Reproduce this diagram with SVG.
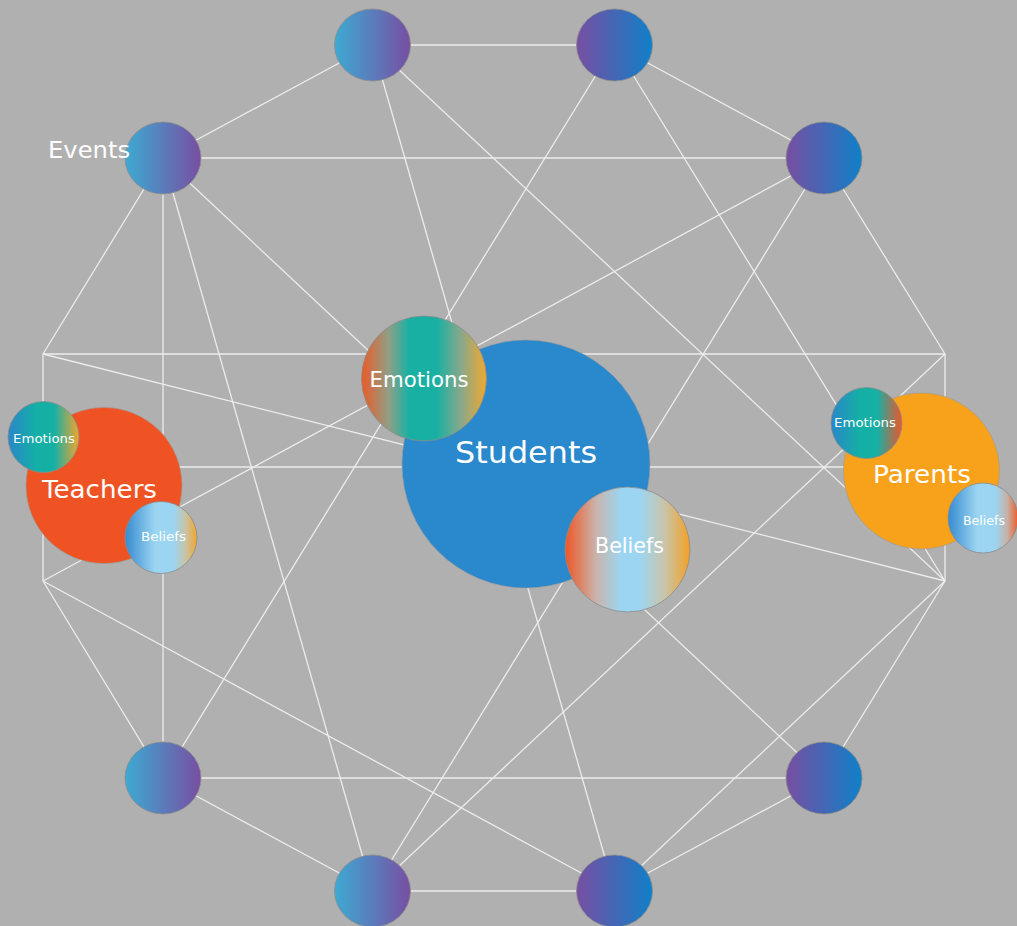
<svg xmlns="http://www.w3.org/2000/svg" width="1017" height="926" viewBox="0 0 1017 926">
<style>
.ln{stroke:#ececec;stroke-width:1.3;fill:none}
.sm{stroke:#8c8c8c;stroke-width:0.8}
.big{stroke:#9a9a9a;stroke-width:0.6}
.t{fill:#ffffff;font-family:"DejaVu Sans","Liberation Sans",sans-serif;text-anchor:middle}
</style>
<defs>
<linearGradient id="gL" x1="0" y1="0" x2="1" y2="0"><stop offset="0" stop-color="#3daad3"/><stop offset="1" stop-color="#784ea2"/></linearGradient>
<linearGradient id="gR" x1="0" y1="0" x2="1" y2="0"><stop offset="0" stop-color="#784ea2"/><stop offset="1" stop-color="#0f80c8"/></linearGradient>
<linearGradient id="gEmoC" x1="0" y1="0" x2="1" y2="0"><stop offset="0" stop-color="#ec5a26"/><stop offset="0.22" stop-color="#8fa088"/><stop offset="0.38" stop-color="#18b0a3"/><stop offset="0.6" stop-color="#18b0a3"/><stop offset="0.8" stop-color="#8aa88a"/><stop offset="1" stop-color="#f0a82e"/></linearGradient>
<linearGradient id="gBelC" x1="0" y1="0" x2="1" y2="0"><stop offset="0" stop-color="#ef5524"/><stop offset="0.25" stop-color="#c9b4ac"/><stop offset="0.45" stop-color="#9cd5f2"/><stop offset="0.6" stop-color="#9cd5f2"/><stop offset="0.8" stop-color="#cac4a8"/><stop offset="1" stop-color="#f3a024"/></linearGradient>
<linearGradient id="gEmoT" x1="0" y1="0" x2="1" y2="0"><stop offset="0" stop-color="#2a86ca"/><stop offset="0.4" stop-color="#14b0a5"/><stop offset="0.65" stop-color="#16b0a4"/><stop offset="1" stop-color="#f2a52c"/></linearGradient>
<linearGradient id="gEmoP" x1="0" y1="0" x2="1" y2="0"><stop offset="0" stop-color="#2a86ca"/><stop offset="0.4" stop-color="#14b0a5"/><stop offset="0.65" stop-color="#16b0a4"/><stop offset="1" stop-color="#ee5528"/></linearGradient>
<linearGradient id="gBelT" x1="0" y1="0" x2="1" y2="0"><stop offset="0" stop-color="#368bd0"/><stop offset="0.42" stop-color="#9cd5f2"/><stop offset="0.68" stop-color="#9cd5f2"/><stop offset="0.85" stop-color="#cac2a0"/><stop offset="1" stop-color="#f3a52a"/></linearGradient>
<linearGradient id="gBelP" x1="0" y1="0" x2="1" y2="0"><stop offset="0" stop-color="#368bd0"/><stop offset="0.42" stop-color="#9cd5f2"/><stop offset="0.68" stop-color="#9cd5f2"/><stop offset="0.85" stop-color="#c8b0a4"/><stop offset="1" stop-color="#ee5a2a"/></linearGradient>
</defs>
<rect width="1017" height="926" fill="#b0b0b0"/>
<g id="connectors">
<line class="ln" x1="372.5" y1="45" x2="614.5" y2="45"/>
<line class="ln" x1="372.5" y1="45" x2="163" y2="158"/>
<line class="ln" x1="372.5" y1="45" x2="945" y2="581"/>
<line class="ln" x1="372.5" y1="45" x2="614.5" y2="891"/>
<line class="ln" x1="614.5" y1="45" x2="824" y2="158"/>
<line class="ln" x1="614.5" y1="45" x2="945" y2="581"/>
<line class="ln" x1="614.5" y1="45" x2="163" y2="778"/>
<line class="ln" x1="163" y1="158" x2="824" y2="158"/>
<line class="ln" x1="163" y1="158" x2="43" y2="354"/>
<line class="ln" x1="163" y1="158" x2="163" y2="778"/>
<line class="ln" x1="163" y1="158" x2="372.5" y2="891"/>
<line class="ln" x1="163" y1="158" x2="824" y2="778"/>
<line class="ln" x1="824" y1="158" x2="945" y2="354"/>
<line class="ln" x1="824" y1="158" x2="372.5" y2="891"/>
<line class="ln" x1="824" y1="158" x2="43" y2="581"/>
<line class="ln" x1="43" y1="354" x2="945" y2="354"/>
<line class="ln" x1="43" y1="354" x2="43" y2="581"/>
<line class="ln" x1="43" y1="354" x2="945" y2="581"/>
<line class="ln" x1="945" y1="354" x2="945" y2="581"/>
<line class="ln" x1="945" y1="354" x2="372.5" y2="891"/>
<line class="ln" x1="43" y1="467" x2="945" y2="467"/>
<line class="ln" x1="43" y1="581" x2="163" y2="778"/>
<line class="ln" x1="43" y1="581" x2="614.5" y2="891"/>
<line class="ln" x1="945" y1="581" x2="824" y2="778"/>
<line class="ln" x1="945" y1="581" x2="614.5" y2="891"/>
<line class="ln" x1="163" y1="778" x2="824" y2="778"/>
<line class="ln" x1="163" y1="778" x2="372.5" y2="891"/>
<line class="ln" x1="824" y1="778" x2="614.5" y2="891"/>
<line class="ln" x1="372.5" y1="891" x2="614.5" y2="891"/>
</g>
<g id="node-top-left"><ellipse class="sm" cx="372.5" cy="45" rx="38" ry="36" fill="url(#gL)"/></g>
<g id="node-top-right"><ellipse class="sm" cx="614.5" cy="45" rx="38" ry="36" fill="url(#gR)"/></g>
<g id="node-events"><ellipse class="sm" cx="163" cy="158" rx="38" ry="36" fill="url(#gL)"/><text class="t" x="89" y="158" font-size="23" textLength="82" lengthAdjust="spacingAndGlyphs">Events</text></g>
<g id="node-right-upper"><ellipse class="sm" cx="824" cy="158" rx="38" ry="36" fill="url(#gR)"/></g>
<g id="node-bottom-left"><ellipse class="sm" cx="163" cy="778" rx="38" ry="36" fill="url(#gL)"/></g>
<g id="node-bottom-right"><ellipse class="sm" cx="824" cy="778" rx="38" ry="36" fill="url(#gR)"/></g>
<g id="node-bottom-mid-left"><ellipse class="sm" cx="372.5" cy="891" rx="38" ry="36" fill="url(#gL)"/></g>
<g id="node-bottom-mid-right"><ellipse class="sm" cx="614.5" cy="891" rx="38" ry="36" fill="url(#gR)"/></g>
<g id="node-students">
<circle class="big" cx="526" cy="464" r="124" fill="#2a88cc"/>
<text class="t" x="526" y="463" font-size="30" textLength="142" lengthAdjust="spacingAndGlyphs">Students</text>
</g>
<g id="node-students-emotions">
<circle class="sm" cx="424" cy="378.5" r="62.5" fill="url(#gEmoC)"/>
<text class="t" x="419" y="387" font-size="20.5" textLength="99" lengthAdjust="spacingAndGlyphs">Emotions</text>
</g>
<g id="node-students-beliefs">
<circle class="sm" cx="627.5" cy="549.5" r="62.5" fill="url(#gBelC)"/>
<text class="t" x="629.5" y="553" font-size="20.5" textLength="69" lengthAdjust="spacingAndGlyphs">Beliefs</text>
</g>
<g id="node-teachers">
<circle class="big" cx="104" cy="485.5" r="78" fill="#ef5323"/>
<text class="t" x="99.5" y="498" font-size="24" textLength="115" lengthAdjust="spacingAndGlyphs">Teachers</text>
</g>
<g id="node-teachers-emotions">
<circle class="sm" cx="43.5" cy="437" r="35.5" fill="url(#gEmoT)"/>
<text class="t" x="44" y="443" font-size="13" textLength="62" lengthAdjust="spacingAndGlyphs">Emotions</text>
</g>
<g id="node-teachers-beliefs">
<circle class="sm" cx="161" cy="537.5" r="36" fill="url(#gBelT)"/>
<text class="t" x="163.5" y="541" font-size="13" textLength="45" lengthAdjust="spacingAndGlyphs">Beliefs</text>
</g>
<g id="node-parents">
<circle class="big" cx="921.5" cy="471" r="78" fill="#f8a21c"/>
<text class="t" x="922" y="483" font-size="24" textLength="98" lengthAdjust="spacingAndGlyphs">Parents</text>
</g>
<g id="node-parents-emotions">
<circle class="sm" cx="866.5" cy="423" r="35.5" fill="url(#gEmoP)"/>
<text class="t" x="865" y="427" font-size="13" textLength="62" lengthAdjust="spacingAndGlyphs">Emotions</text>
</g>
<g id="node-parents-beliefs">
<circle class="sm" cx="983" cy="518" r="35" fill="url(#gBelP)"/>
<text class="t" x="984" y="525" font-size="13" textLength="42" lengthAdjust="spacingAndGlyphs">Beliefs</text>
</g>
</svg>
